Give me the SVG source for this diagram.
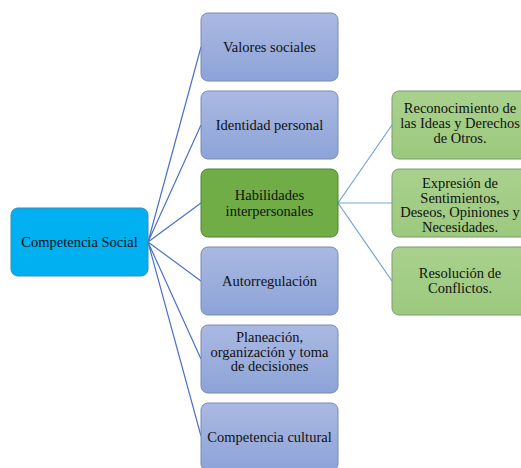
<svg xmlns="http://www.w3.org/2000/svg" width="521" height="468" viewBox="0 0 521 468">
<defs>
<linearGradient id="gb" x1="0" y1="0" x2="0" y2="1"><stop offset="0" stop-color="#AAB9E2"/><stop offset="1" stop-color="#8DA3D8"/></linearGradient>
<linearGradient id="gg" x1="0" y1="0" x2="0" y2="1"><stop offset="0" stop-color="#A9D18E"/><stop offset="1" stop-color="#9CC97E"/></linearGradient>
</defs>
<style>
text{font-size:14.5px;fill:#111;text-anchor:middle}
.b{fill:url(#gb);stroke:#7A89B0;stroke-width:1}
.g{fill:url(#gg);stroke:#7E9A6C;stroke-width:1}
.c1{stroke:#4A72C8;stroke-width:1.2;fill:none}
.c2{stroke:#6FA6DC;stroke-width:1.2;fill:none}
</style>
<rect width="521" height="468" fill="#fff"/>
<g id="connectors">
<path class="c1" d="M148 242 L201 47 M148 242 L201 125 M148 242 L201 203 M148 242 L201 281 M148 242 L201 359 M148 242 L201 436"/>
<path class="c2" d="M338 203 L392 125 M338 203 L392 203 M338 203 L392 281"/>
</g>
<g font-family="'Liberation Serif', 'Times New Roman', 'DejaVu Serif', serif">
<g id="n0"><rect x="11" y="208" width="137" height="68" rx="7" fill="#00B0F0" stroke="#3A8BB0"/><text x="79.5" y="247">Competencia Social</text></g>
<g id="n1"><rect class="b" x="201" y="13" width="137" height="68" rx="7"/><text x="269.5" y="52">Valores sociales</text></g>
<g id="n2"><rect class="b" x="201" y="91" width="137" height="68" rx="7"/><text x="269.5" y="130">Identidad personal</text></g>
<g id="n3"><rect x="201" y="169" width="137" height="68" rx="7" fill="#70AD47" stroke="#557F38"/><text x="269.5" y="200">Habilidades</text><text x="269.5" y="216">interpersonales</text></g>
<g id="n4"><rect class="b" x="201" y="247" width="137" height="68" rx="7"/><text x="269.5" y="286">Autorregulación</text></g>
<g id="n5"><rect class="b" x="201" y="325" width="137" height="68" rx="7"/><text x="269.5" y="342">Planeación,</text><text x="269.5" y="356.5">organización y toma</text><text x="269.5" y="371">de decisiones</text></g>
<g id="n6"><rect class="b" x="201" y="403" width="137" height="68" rx="7"/><text x="269.5" y="442">Competencia cultural</text></g>
<g id="n7"><rect class="g" x="392" y="91" width="137" height="68" rx="7"/><text x="460" y="113">Reconocimiento de</text><text x="460" y="128">las Ideas y Derechos</text><text x="460" y="143">de Otros.</text></g>
<g id="n8"><rect class="g" x="392" y="169" width="137" height="68" rx="7"/><text x="460" y="188">Expresión de</text><text x="460" y="202.5">Sentimientos,</text><text x="460" y="217">Deseos, Opiniones y</text><text x="460" y="231.5">Necesidades.</text></g>
<g id="n9"><rect class="g" x="392" y="247" width="137" height="68" rx="7"/><text x="460" y="278">Resolución de</text><text x="460" y="293">Conflictos.</text></g>
</g>
</svg>
